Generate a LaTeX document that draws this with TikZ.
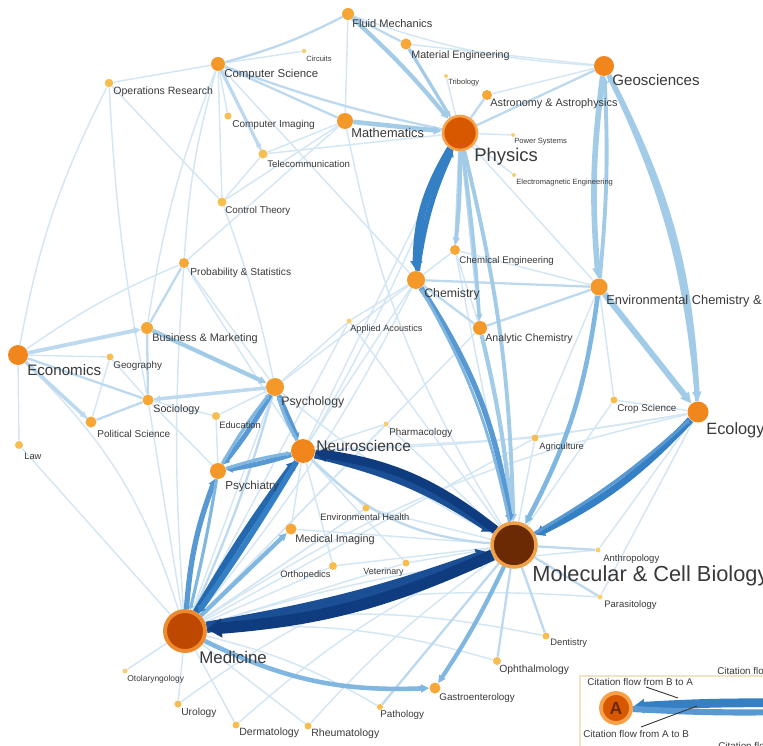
\documentclass[tikz,border=0pt]{standalone}
\usepackage{fontspec}
\setmainfont{Liberation Sans}
\usetikzlibrary{arrows.meta}
\definecolor{txt}{HTML}{3A3A3A}
\definecolor{cS}{HTML}{F8CF6E}
\definecolor{cSS}{HTML}{F7BD4E}
\definecolor{cM}{HTML}{F6A735}
\definecolor{cL}{HTML}{F4982A}
\definecolor{cXL}{HTML}{F0861C}
\definecolor{e0}{HTML}{D3E6F4}
\definecolor{e1}{HTML}{BCD9EF}
\definecolor{e2}{HTML}{A2CBE8}
\definecolor{e3}{HTML}{80B7E1}
\definecolor{e4}{HTML}{5898D3}
\definecolor{e5}{HTML}{3580C4}
\definecolor{e6}{HTML}{2468B0}
\definecolor{nv1}{HTML}{0E3C7E}
\definecolor{nv2}{HTML}{1B4F95}
\definecolor{legb}{HTML}{F2E3C4}
\newcommand{\fsz}[1]{\fontsize{#1}{#1}\selectfont}
\pgfdeclarelayer{bg}
\pgfdeclarelayer{edges}
\pgfsetlayers{bg,edges,main}
\tikzset{
  nd/.style={circle, inner sep=0pt, minimum size=#1*0.04cm},
  lb/.style={anchor=west, inner sep=0pt, text=txt, font=\fsz{#1}},
  le/.style={draw=e0, line width=0.8pt},
  l1/.style={draw=e1, line width=1.3pt},
  arr/.style={-{Triangle[length=0pt 1.8, width=0pt 1.7]}},
  band/.style={line width=#1, -{Triangle[length=0pt 1.3, width=0pt 1.6]}},
}
\begin{document}
\begin{tikzpicture}[x=0.02cm,y=-0.02cm]
\useasboundingbox (0,0) rectangle (763,746);
\begin{pgfonlayer}{bg}
\fill[white] (0,0) rectangle (763,746);
\end{pgfonlayer}
\clip (0,0) rectangle (763,746);
% ---------- nodes ----------
\node[nd=6,fill=cM] (fm) at (348,14) {};
\node[nd=2.2,fill=cS] (cir) at (304,51) {};
\node[nd=7,fill=cL] (cs) at (218,64) {};
\node[nd=4.2,fill=cSS] (or) at (109,83) {};
\node[nd=5.5,fill=cM] (me) at (406,44) {};
\node[nd=2,fill=cS] (tri) at (446,76) {};
\node[nd=5,fill=cM] (ast) at (487,95) {};
\node[nd=10,fill=cXL] (geo) at (604,66) {};
\node[nd=8,fill=cL] (mat) at (345,121) {};
\node[nd=17,fill={rgb,255:red,216;green,88;blue,0},draw={rgb,255:red,247;green,162;blue,74},line width=1.5pt] (phy) at (460,133) {};
\node[nd=3.5,fill=cSS] (ci) at (228,116) {};
\node[nd=2,fill=cS] (ps) at (513,135) {};
\node[nd=4.5,fill=cSS] (tel) at (263,154) {};
\node[nd=2,fill=cS] (em) at (514,175) {};
\node[nd=4.5,fill=cSS] (ct) at (222,202) {};
\node[nd=5,fill=cM] (che) at (455,250) {};
\node[nd=5,fill=cM] (pst) at (184,263) {};
\node[nd=9,fill=cL] (chem) at (416,280) {};
\node[nd=8.5,fill=cL] (env) at (599,287) {};
\node[nd=2.5,fill=cS] (aa) at (349,321) {};
\node[nd=6,fill=cM] (bm) at (147,328) {};
\node[nd=7,fill=cL] (ac) at (480,328) {};
\node[nd=10,fill=cXL] (eco) at (18,355) {};
\node[nd=3.5,fill=cSS] (geog) at (110,357) {};
\node[nd=9,fill=cL] (psy) at (275,387) {};
\node[nd=5.5,fill=cM] (soc) at (148,400) {};
\node[nd=3.5,fill=cSS] (crop) at (614,400) {};
\node[nd=10.5,fill=cXL] (ecol) at (698,412) {};
\node[nd=5.5,fill=cM] (pol) at (91,422) {};
\node[nd=4,fill=cSS] (edu) at (216,416) {};
\node[nd=2.5,fill=cS] (pha) at (386,424) {};
\node[nd=12,fill=cXL] (neu) at (303,451) {};
\node[nd=4,fill=cSS] (law) at (19,445) {};
\node[nd=3.5,fill=cSS] (agr) at (535,438) {};
\node[nd=8,fill=cL] (psyc) at (218,471) {};
\node[nd=3.5,fill=cSS] (eh) at (366,508) {};
\node[nd=5.5,fill=cM] (mi) at (291,529) {};
\node[nd=22,fill={rgb,255:red,107;green,42;blue,4},draw={rgb,255:red,240;green,160;blue,72},line width=2pt] (mol) at (514,545) {};
\node[nd=2.5,fill=cS] (ant) at (598,550) {};
\node[nd=4,fill=cSS] (ort) at (333,566) {};
\node[nd=3.5,fill=cSS] (vet) at (406,563) {};
\node[nd=2.5,fill=cS] (par) at (600,597) {};
\node[nd=20,fill={rgb,255:red,190;green,72;blue,0},draw={rgb,255:red,238;green,138;blue,46},line width=2.2pt] (med) at (185,631) {};
\node[nd=3.5,fill=cSS] (den) at (546,636) {};
\node[nd=4,fill=cSS] (oph) at (497,661) {};
\node[nd=2.5,fill=cS] (oto) at (125,671) {};
\node[nd=5.5,fill=cM] (gas) at (435,688) {};
\node[nd=3.5,fill=cSS] (uro) at (178,704) {};
\node[nd=3,fill=cSS] (pat) at (380,707) {};
\node[nd=3.5,fill=cSS] (der) at (236,725) {};
\node[nd=3.5,fill=cSS] (rhe) at (308,726) {};
% ---------- labels ----------
\node[lb=6.3] (Lfm) at (352,24) {Fluid Mechanics};
\node[lb=4.3] (Lcir) at (306,59) {Circuits};
\node[lb=6.5] (Lcs) at (224,75) {Computer Science};
\node[lb=6.0] (Lor) at (113,92) {Operations Research};
\node[lb=6.1] (Lme) at (411,56) {Material Engineering};
\node[lb=4.3] (Ltri) at (448,83) {Tribology};
\node[lb=6.2] (Last) at (490,104) {Astronomy \& Astrophysics};
\node[lb=8.6] (Lgeo) at (612,80) {Geosciences};
\node[lb=7.3] (Lmat) at (351,133) {Mathematics};
\node[lb=10.5] (Lphy) at (474,157) {Physics};
\node[lb=5.7] (Lci) at (232,125) {Computer Imaging};
\node[lb=4.3] (Lps) at (514,142) {Power Systems};
\node[lb=5.5] (Ltel) at (267,164) {Telecommunication};
\node[lb=4.3] (Lem) at (516,183) {Electromagnetic Engineering};
\node[lb=5.6] (Lct) at (225,211) {Control Theory};
\node[lb=5.5] (Lche) at (459,261) {Chemical Engineering};
\node[lb=5.8] (Lpst) at (190,273) {Probability \& Statistics};
\node[lb=7.0] (Lchem) at (424,294) {Chemistry};
\node[lb=7.3] (Lenv) at (606,301) {Environmental Chemistry \&};
\node[lb=5.2] (Laa) at (350,329) {Applied Acoustics};
\node[lb=6.2] (Lbm) at (152,339) {Business \& Marketing};
\node[lb=6.0] (Lac) at (485,339) {Analytic Chemistry};
\node[lb=8.6] (Leco) at (27,370) {Economics};
\node[lb=5.6] (Lgeog) at (113,366) {Geography};
\node[lb=7.0] (Lpsy) at (281,402) {Psychology};
\node[lb=6.1] (Lsoc) at (153,410) {Sociology};
\node[lb=5.6] (Lcrop) at (617,409) {Crop Science};
\node[lb=9.3] (Lecol) at (706,430) {Ecology \&};
\node[lb=5.7] (Lpol) at (97,434) {Political Science};
\node[lb=5.3] (Ledu) at (219,425) {Education};
\node[lb=5.6] (Lpha) at (389,433) {Pharmacology};
\node[lb=8.8] (Lneu) at (316,446) {Neuroscience};
\node[lb=5.3] (Llaw) at (24,456) {Law};
\node[lb=5.3] (Lagr) at (539,447) {Agriculture};
\node[lb=6.6] (Lpsyc) at (225,486) {Psychiatry};
\node[lb=5.3] (Leh) at (320,517) {Environmental Health};
\node[lb=6.2] (Lmi) at (295,540) {Medical Imaging};
\node[lb=12.4] (Lmol) at (532,576) {Molecular \& Cell Biology};
\node[lb=5.4] (Lant) at (603,559) {Anthropology};
\node[lb=5.3] (Lort) at (280,575) {Orthopedics};
\node[lb=5.1] (Lvet) at (363,572) {Veterinary};
\node[lb=5.4] (Lpar) at (604,605) {Parasitology};
\node[lb=9.6] (Lmed) at (199,657) {Medicine};
\node[lb=5.3] (Lden) at (550,643) {Dentistry};
\node[lb=5.9] (Loph) at (499,670) {Ophthalmology};
\node[lb=4.8] (Loto) at (127,679) {Otolaryngology};
\node[lb=5.6] (Lgas) at (439,698) {Gastroenterology};
\node[lb=5.8] (Luro) at (181,713) {Urology};
\node[lb=5.6] (Lpat) at (380,715) {Pathology};
\node[lb=6.0] (Lder) at (239,733) {Dermatology};
\node[lb=6.0] (Lrhe) at (311,734) {Rheumatology};
% ---------- edges ----------
\begin{pgfonlayer}{edges}
% very light
\foreach \a/\b/\c in {cs/or/0, cs/cir/0, cs/ci/0, cs/ct/0, cs/chem/0, or/ct/0, or/soc/-4, ct/tel/0, ct/mat/0, ct/psy/4,
  mat/tel/0, mat/pst/0, mat/fm/0, tel/phy/0, fm/geo/-8, me/geo/0, tri/phy/0, ast/geo/0, phy/ps/0, phy/em/0, phy/env/0,
  phy/neu/0, phy/med/6, pst/psy/0, pst/med/-4, pst/neu/0, eco/geog/0, eco/law/0, eco/med/14, geog/soc/0, geog/pol/0,
  soc/psyc/0, soc/edu/0, soc/med/0, edu/psy/0, edu/psyc/0, law/med/0, psy/med/0, psy/mol/-6, psy/chem/0,
  neu/pha/0, neu/mi/0, neu/eh/0, neu/ort/0, neu/vet/0, neu/chem/0, neu/ecol/-4, neu/agr/0,
  med/oto/0, med/uro/0, med/der/0, med/rhe/0, med/pat/8, med/oph/10, med/den/10, med/par/8, med/ant/6, med/eh/0,
  med/ort/0, med/vet/0, med/agr/0, med/pha/0, med/chem/-6, med/ecol/10,
  mol/eh/0, mol/vet/0, mol/ort/0, mol/pha/0, mol/agr/0, mol/crop/0, mol/aa/0, mol/che/0, mol/uro/-10, mol/der/-8,
  mol/rhe/-6, mol/mi/0, ecol/crop/0, ecol/agr/0, ecol/par/0, ecol/ant/0, env/crop/0, env/agr/0, env/che/0,
  chem/aa/0, chem/che/0, ac/che/0, ac/med/0, aa/med/0, aa/psy/0, eh/med/0, cs/pst/-6, cs/bm/-6, or/eco/-8, pst/eco/-6, mat/mol/-10}
  \draw[le] (\a) to[bend left=\c] (\b);
% light
\foreach \a/\b/\c in {cs/fm/-6, cs/mat/0, cs/phy/-4, cs/tel/0, fm/me/0, me/phy/0, ast/phy/0, phy/geo/0, phy/ac/0,
  chem/ac/0, chem/env/0, env/ac/0, eco/soc/0, soc/pol/0, soc/psy/0, bm/soc/0, bm/pst/0, eco/pol/0, psy/med/4,
  mol/den/0, mol/oph/0, mol/par/0, mol/ant/0, mol/pat/0, neu/mol/-20, phy/che/0}
  \draw[l1] (\a) to[bend left=\c] (\b);
% medium-light with arrows
\draw[draw=e2, line width=2.6pt, arr] (mat) to (phy);
\draw[draw=e2, line width=2.4pt, arr] (fm) to[bend left=4] (phy);
\draw[draw=e2, line width=1.8pt, arr] (me) to (phy);
\draw[draw=e1, line width=1.8pt, arr] (cs) to (tel);
\draw[draw=e2, line width=2.2pt, arr] (phy) to[bend left=3] (che);
\draw[draw=e2, line width=2.2pt, arr] (phy) to[bend left=6] (mol);
\draw[draw=e2, line width=2.0pt, arr] (phy) to[bend left=2] (ac);
\draw[draw=e2, line width=2.4pt, arr] (bm) to (psy);
\draw[draw=e1, line width=2.2pt, arr] (eco) to (bm);
\draw[draw=e1, line width=2.0pt, arr] (eco) to (pol);
\draw[draw=e1, line width=2.0pt, arr] (psy) to (soc);
\draw[draw=e2, line width=2.4pt, arr] (ac) to[bend left=4] (mol);
\draw[draw=e2, line width=3.2pt, arr] (geo) to[bend right=6] (env);
\draw[draw=e2, line width=2.2pt, arr] (env) to[bend right=4] (geo);
\draw[draw=e2, line width=3.0pt, arr] (geo) to[bend left=12] (ecol);
\draw[draw=e2, line width=2.0pt, arr] (ecol) to[bend right=10] (geo);
\draw[draw=e2, line width=3.4pt, arr] (env) to (ecol);
\draw[draw=e3, line width=2.6pt, arr] (env) to[bend left=10] (mol);
\draw[draw=e3, line width=2.4pt, arr] (med) to (mi);
\draw[draw=e3, line width=2.6pt, arr] (med) to[bend right=14] (gas);
\draw[draw=e3, line width=2.4pt, arr] (mol) to[bend left=4] (gas);
% medium bands
\draw[draw=e4, band=3pt] (chem) to[bend left=12] (mol);
\draw[draw=e3, band=1.6pt] (mol) to[bend right=9] (chem);
\draw[draw=e4, band=2.8pt] (psy) to (neu);
\draw[draw=e3, band=1.8pt] (neu) to[bend left=6] (psy);
\draw[draw=e4, band=2.8pt] (psy) to[bend left=4] (psyc);
\draw[draw=e3, band=1.8pt] (psyc) to[bend left=4] (psy);
\draw[draw=e4, band=2.8pt] (neu) to[bend left=4] (psyc);
\draw[draw=e3, band=1.8pt] (psyc) to[bend left=4] (neu);
\draw[draw=e4, band=3pt] (med) to[bend left=8] (psyc);
\draw[draw=e3, band=1.8pt] (psyc) to[bend left=2] (med);
\draw[draw=e5, band=4pt] (ecol) to[bend left=10] (mol);
\draw[draw=e4, band=1.8pt] (mol) to[bend right=6] (ecol);
\draw[draw=e5, band=4.2pt] (phy) to[bend right=15] (chem);
\draw[draw=e5, band=3pt] (chem) to[bend left=8] (phy);
\draw[draw=e6, band=3.8pt] (med) to[bend left=3] (neu);
\draw[draw=e5, band=3.2pt] (neu) to[bend left=2] (med);
% heavy navy bands
\draw[draw=nv2, band=5pt] (neu) to[bend left=10] (mol);
\draw[draw=nv1, band=5pt] (mol) to[bend right=15] (neu);
\draw[draw=nv2, band=6.5pt] (med) to[bend right=5] (mol);
\draw[draw=nv1, band=6.5pt] (mol) to[bend left=10] (med);
\end{pgfonlayer}
% ---------- legend ----------
\draw[draw=legb, fill=white, line width=0.8pt] (580,676) rectangle (800,800);
\coordinate (B1) at (790,703);
\coordinate (B2) at (790,712);
\node[nd=15,fill={rgb,255:red,216;green,88;blue,0},draw={rgb,255:red,247;green,162;blue,74},line width=2.2pt,
  text={rgb,255:red,110;green,40;blue,0}, font=\fsz{10}\bfseries] (A) at (616,708) {A};
\draw[draw=e5, band=5pt] (B1) to[bend right=2] (A);
\draw[draw=e4, band=3.5pt] (A) to[bend right=2] (B2);
\coordinate (p1) at (646,687);
\coordinate (q1) at (678,698);
\coordinate (p2) at (641,727);
\coordinate (q2) at (697,706);
\draw[black!80, line width=0.5pt] (p1) -- (q1);
\draw[black!80, line width=0.5pt] (p2) -- (q2);
\node[lb=5.6] (Lleg1) at (587,682) {Citation flow from B to A};
\node[lb=5.6] (Lleg2) at (583,734) {Citation flow from A to B};
\node[lb=5.6] (Lleg3) at (717,671) {Citation flow};
\node[lb=5.6] (Lleg4) at (718,746) {Citation flow};
\end{tikzpicture}
\end{document}
